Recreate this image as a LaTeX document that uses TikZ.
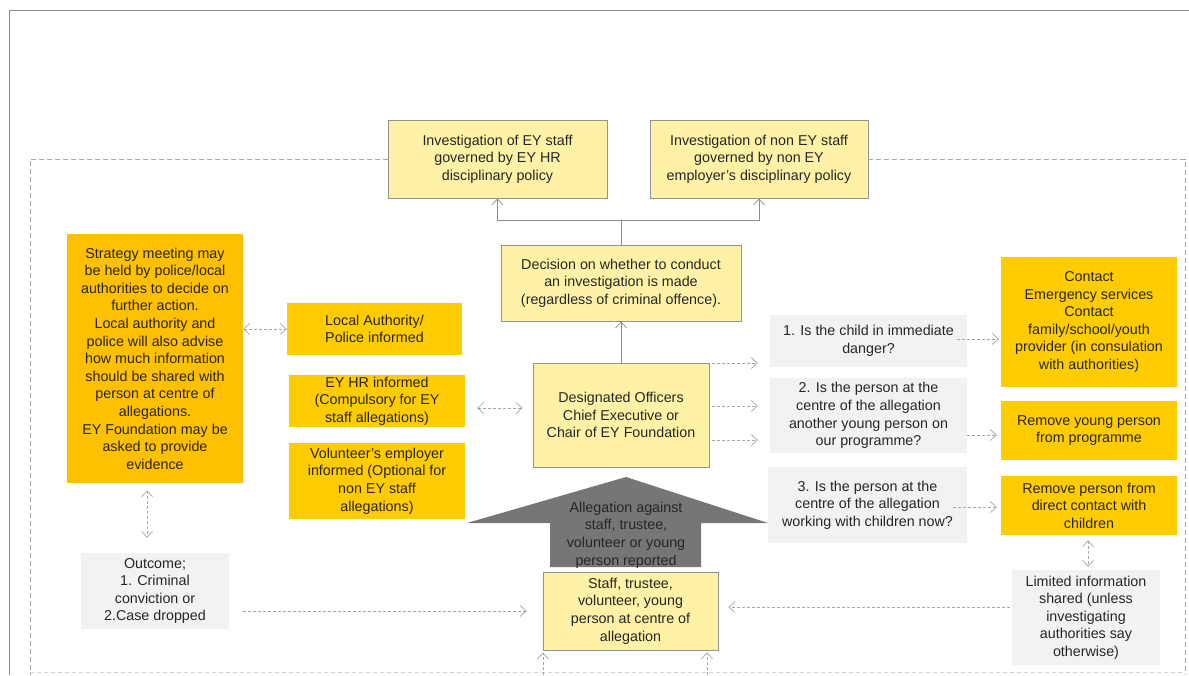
\documentclass[tikz,border=0pt]{standalone}
\usepackage{fontspec}
\setmainfont{Liberation Sans}
\usetikzlibrary{arrows.meta}
\definecolor{ylight}{HTML}{FFF2A6}
\definecolor{boxline}{HTML}{939393}
\definecolor{amber}{HTML}{FFC000}
\definecolor{yellowbox}{HTML}{FFCC00}
\definecolor{greybox}{HTML}{F2F2F2}
\definecolor{bigarrow}{HTML}{767676}
\definecolor{dashgray}{HTML}{A6A6A6}
\definecolor{linegray}{HTML}{8C8C8C}
\definecolor{txt}{HTML}{262626}
\begin{document}
\begin{tikzpicture}[x=1pt,y=-1pt,
  base/.style={font=\fontsize{14.3}{17.6}\selectfont, align=center, inner sep=0pt, text=txt},
  ybox/.style={base, fill=ylight, draw=boxline, line width=0.8pt},
  obox/.style={base, fill=amber},
  yebox/.style={base, fill=yellowbox},
  gbox/.style={base, fill=greybox},
  tipb/.tip={Straight Barb[length=6pt,width=11pt,line width=0.7pt]},
  conn/.style={draw=linegray, line width=0.8pt},
  sarr/.style={conn, -tipb},
  dashconn/.style={draw=dashgray, line width=0.8pt, dash pattern=on 3pt off 2pt},
  darr/.style={dashconn, -tipb},
  ddarr/.style={dashconn, tipb-tipb},
  framedash/.style={draw=dashgray, line width=0.8pt, dash pattern=on 5pt off 3pt}
]
\useasboundingbox (0,0) rectangle (1189,675);
% outer frame
\draw[draw=linegray, line width=0.9pt] (9,675) -- (9,10) -- (1189,10);

% top boxes
\node[ybox, minimum width=219pt, minimum height=78pt] (inv1) at (497.5,159) {Investigation of EY staff\\governed by EY HR\\disciplinary policy};
\node[ybox, minimum width=218pt, minimum height=78pt] (inv2) at (759,159) {Investigation of non EY staff\\governed by non EY\\employer's disciplinary policy};

% dashed frame
\draw[framedash] (inv1.west) -- (30,159) -- (30,675);
\draw[framedash] (inv2.east) -- (1185,159) -- (1185,675);
\draw[draw=dashgray!50, line width=0.6pt, dash pattern=on 4pt off 3pt] (30,672) -- (1185,672);

\node[ybox, minimum width=240pt, minimum height=76pt] (dec) at (621,283) {Decision on whether to conduct\\an investigation is made\\(regardless of criminal offence).};

\node[obox, minimum width=176pt, minimum height=249pt] (strat) at (155,358.5) {Strategy meeting may\\be held by police/local\\authorities to decide on\\further action.\\Local authority and\\police will also advise\\how much information\\should be shared with\\person at centre of\\allegations.\\EY Foundation may be\\asked to provide\\evidence};

\node[yebox, minimum width=175pt, minimum height=52pt] (local) at (374.5,329) {Local Authority/\\Police informed};
\node[yebox, minimum width=176pt, minimum height=52pt] (hr) at (377,401) {EY HR informed\\(Compulsory for EY\\staff allegations)};
\node[yebox, minimum width=176pt, minimum height=76pt] (vol) at (377,481) {Volunteer's employer\\informed (Optional for\\non EY staff\\allegations)};

\node[ybox, minimum width=176pt, minimum height=104pt] (desig) at (621,415) {Designated Officers\\Chief Executive or\\Chair of EY Foundation};

\node[gbox, minimum width=197pt, minimum height=52pt] (q1) at (868.5,341) {1. Is the child in immediate\\danger?};
\node[gbox, minimum width=197pt, minimum height=75pt] (q2) at (868.5,415.5) {2. Is the person at the\\centre of the allegation\\another young person on\\our programme?};
\node[gbox, minimum width=199pt, minimum height=76pt] (q3) at (867.5,505) {3. Is the person at the\\centre of the allegation\\working with children now?};

\node[yebox, minimum width=176pt, minimum height=130pt] (contact) at (1089,322) {Contact\\Emergency services\\Contact\\family/school/youth\\provider (in consulation\\with authorities)};
\node[yebox, minimum width=176pt, minimum height=59pt] (remyp) at (1089,430.5) {Remove young person\\from programme};
\node[yebox, minimum width=176pt, minimum height=59pt] (remp) at (1089,505.5) {Remove person from\\direct contact with\\children};

\node[gbox, minimum width=148pt, minimum height=95pt] (limited) at (1086,617.5) {Limited information\\shared (unless\\investigating\\authorities say\\otherwise)};
\node[gbox, minimum width=148pt, minimum height=76pt] (outcome) at (155,591) {Outcome;\\1. Criminal\\conviction or\\2.Case dropped};

% big arrow
\fill[bigarrow] (626,477) -- (768,523) -- (701,523) -- (701,567) -- (550,567) -- (550,523) -- (467,523) -- cycle;
\node[base] (alleg) at (626,535) {Allegation against\\staff, trustee,\\volunteer or young\\person reported};

\node[ybox, minimum width=175pt, minimum height=78pt] (staff) at (630.5,611) {Staff, trustee,\\volunteer, young\\person at centre of\\allegation};

% solid connectors
\coordinate (j) at (621,220);
\draw[conn] (dec.north) -- (j);
\draw[sarr] (j) -| (inv1.south);
\draw[sarr] (j) -| (inv2.south);
\draw[sarr] (desig.north) -- (dec.south);

% dashed connectors
\draw[ddarr] (strat.east |- local.west) -- (local.west);
\coordinate (hy) at (0,408);
\draw[ddarr, shorten <=12pt, shorten >=10pt] (hr.east |- hy) -- (desig.west |- hy);
\draw[ddarr, shorten <=7pt, shorten >=15pt] ([xshift=-8pt]strat.south) -- ([xshift=-8pt]strat.south |- outcome.north);

\coordinate (d1) at (0,363);
\coordinate (d2) at (0,406);
\coordinate (d3) at (0,440);
\draw[darr, shorten <=3pt, shorten >=12pt] (desig.east |- d1) -- (q1.west |- d1);
\draw[darr, shorten <=3pt, shorten >=12pt] (desig.east |- d2) -- (q2.west |- d2);
\draw[darr, shorten <=3pt, shorten >=12pt] (desig.east |- d3) -- (q2.west |- d3);

\coordinate (e1) at (0,339);
\coordinate (e2) at (0,435);
\coordinate (e3) at (0,507);
\draw[darr, shorten <=-10pt, shorten >=2pt] (q1.east |- e1) -- (contact.west |- e1);
\draw[darr, shorten >=4pt] (q2.east |- e2) -- (remyp.west |- e2);
\draw[darr, shorten <=-14pt, shorten >=4pt] (q3.east |- e3) -- (remp.west |- e3);

\draw[ddarr, shorten <=5pt, shorten >=3pt] ([xshift=-1pt]remp.south) -- ([xshift=-1pt]remp.south |- limited.north);

\coordinate (f1) at (0,607);
\coordinate (f2) at (0,611);
\draw[darr, shorten <=2pt, shorten >=10pt] (limited.west |- f1) -- (staff.east |- f1);
\draw[darr, shorten <=14pt, shorten >=16pt] (outcome.east |- f2) -- (staff.west |- f2);

\coordinate (b1) at (543,675);
\coordinate (b2) at (707,675);
\draw[darr, shorten >=2pt] (b1) -- (b1 |- staff.south);
\draw[darr, shorten >=2pt] (b2) -- (b2 |- staff.south);
\end{tikzpicture}
\end{document}
